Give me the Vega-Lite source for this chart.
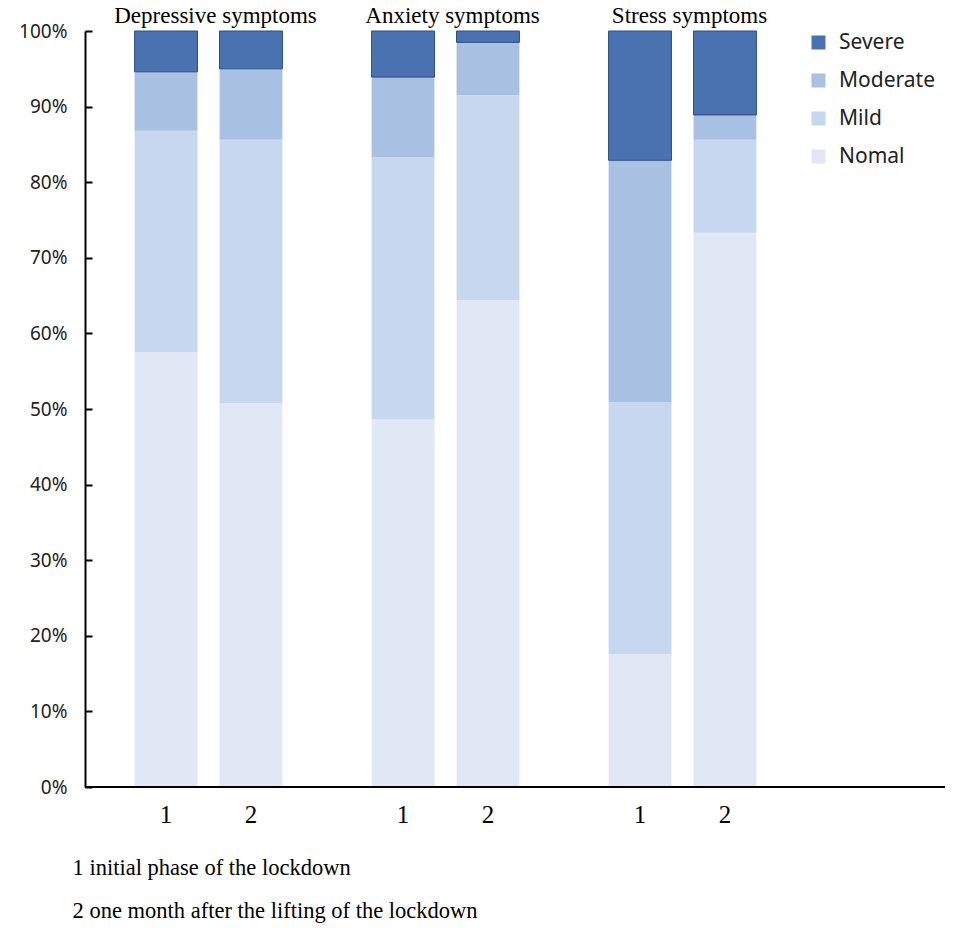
{
  "$schema": "https://vega.github.io/schema/vega-lite/v6.json",
  "width": 860,
  "height": 756,
  "autosize": "none",
  "padding": {"left": 85, "top": 31, "right": 12, "bottom": 143},
  "background": "white",
  "title": {
    "text": ["1 initial phase of the lockdown", "2 one month after the lifting of the lockdown"],
    "orient": "bottom",
    "anchor": "start",
    "font": "Liberation Serif",
    "fontSize": 22.5,
    "fontWeight": "normal",
    "color": "black",
    "lineHeight": 43,
    "offset": 29,
    "dx": 54
  },
  "data": {
    "values": [
      {"symptom": "Depressive symptoms", "time": "1", "level": "Nomal", "rank": 1, "pct": 57.5},
      {"symptom": "Depressive symptoms", "time": "1", "level": "Mild", "rank": 2, "pct": 29.3},
      {"symptom": "Depressive symptoms", "time": "1", "level": "Moderate", "rank": 3, "pct": 7.8},
      {"symptom": "Depressive symptoms", "time": "1", "level": "Severe", "rank": 4, "pct": 5.4},
      {"symptom": "Depressive symptoms", "time": "2", "level": "Nomal", "rank": 1, "pct": 50.8},
      {"symptom": "Depressive symptoms", "time": "2", "level": "Mild", "rank": 2, "pct": 34.8},
      {"symptom": "Depressive symptoms", "time": "2", "level": "Moderate", "rank": 3, "pct": 9.4},
      {"symptom": "Depressive symptoms", "time": "2", "level": "Severe", "rank": 4, "pct": 5.0},
      {"symptom": "Anxiety symptoms", "time": "1", "level": "Nomal", "rank": 1, "pct": 48.6},
      {"symptom": "Anxiety symptoms", "time": "1", "level": "Mild", "rank": 2, "pct": 34.7},
      {"symptom": "Anxiety symptoms", "time": "1", "level": "Moderate", "rank": 3, "pct": 10.6},
      {"symptom": "Anxiety symptoms", "time": "1", "level": "Severe", "rank": 4, "pct": 6.1},
      {"symptom": "Anxiety symptoms", "time": "2", "level": "Nomal", "rank": 1, "pct": 64.4},
      {"symptom": "Anxiety symptoms", "time": "2", "level": "Mild", "rank": 2, "pct": 27.1},
      {"symptom": "Anxiety symptoms", "time": "2", "level": "Moderate", "rank": 3, "pct": 7.0},
      {"symptom": "Anxiety symptoms", "time": "2", "level": "Severe", "rank": 4, "pct": 1.5},
      {"symptom": "Stress symptoms", "time": "1", "level": "Nomal", "rank": 1, "pct": 17.6},
      {"symptom": "Stress symptoms", "time": "1", "level": "Mild", "rank": 2, "pct": 33.3},
      {"symptom": "Stress symptoms", "time": "1", "level": "Moderate", "rank": 3, "pct": 32.0},
      {"symptom": "Stress symptoms", "time": "1", "level": "Severe", "rank": 4, "pct": 17.1},
      {"symptom": "Stress symptoms", "time": "2", "level": "Nomal", "rank": 1, "pct": 73.3},
      {"symptom": "Stress symptoms", "time": "2", "level": "Mild", "rank": 2, "pct": 12.3},
      {"symptom": "Stress symptoms", "time": "2", "level": "Moderate", "rank": 3, "pct": 3.3},
      {"symptom": "Stress symptoms", "time": "2", "level": "Severe", "rank": 4, "pct": 11.1}
    ]
  },
  "layer": [
    {
      "mark": {"type": "bar", "strokeWidth": 1},
      "encoding": {
        "x": {
          "field": "symptom",
          "type": "nominal",
          "sort": null,
          "scale": {
            "domain": ["Depressive symptoms", "Anxiety symptoms", "Stress symptoms"],
            "range": [5, 716],
            "paddingInner": 0,
            "paddingOuter": 0
          },
          "axis": {
            "orient": "top",
            "title": null,
            "domain": false,
            "ticks": false,
            "labelAngle": 0,
            "labelLimit": 0,
            "labelFont": "Liberation Serif",
            "labelFontSize": 23,
            "labelColor": "black",
            "labelPadding": 4,
            "labelOffset": 7
          }
        },
        "xOffset": {
          "field": "time",
          "type": "nominal",
          "scale": {"paddingInner": 0.26, "paddingOuter": 0.525}
        },
        "y": {
          "field": "pct",
          "type": "quantitative",
          "stack": "zero",
          "scale": {"domain": [0, 100], "nice": false},
          "axis": {
            "title": null,
            "values": [0, 10, 20, 30, 40, 50, 60, 70, 80, 90, 100],
            "labelExpr": "datum.value + '%'",
            "grid": false,
            "domainColor": "black",
            "domainWidth": 2,
            "tickColor": "black",
            "tickWidth": 2,
            "tickSize": -7,
            "labelPadding": 25,
            "labelFont": "Noto Sans",
            "labelFontSize": 19,
            "labelColor": "#222222"
          }
        },
        "color": {
          "field": "level",
          "type": "nominal",
          "scale": {
            "domain": ["Severe", "Moderate", "Mild", "Nomal"],
            "range": ["#4a72b0", "#a8c1e3", "#c6d7ef", "#e0e8f5"]
          },
          "legend": {
            "title": null,
            "orient": "none",
            "legendX": 723,
            "legendY": 1,
            "symbolType": "square",
            "symbolSize": 196,
            "symbolStrokeWidth": 0,
            "labelFont": "Noto Sans",
            "labelFontSize": 21,
            "labelColor": "#222222",
            "labelOffset": 10,
            "rowPadding": 16,
            "padding": 0
          }
        },
        "stroke": {
          "condition": {"test": "datum.level === 'Severe'", "value": "#2b4a82"},
          "value": null
        },
        "order": {"field": "rank", "type": "quantitative"}
      }
    },
    {
      "transform": [{"filter": "datum.level === 'Severe'"}],
      "mark": {
        "type": "text",
        "dy": 36,
        "baseline": "alphabetic",
        "font": "Liberation Serif",
        "fontSize": 25,
        "color": "black"
      },
      "encoding": {
        "x": {"field": "symptom", "type": "nominal", "sort": null},
        "xOffset": {"field": "time", "type": "nominal"},
        "y": {"datum": 0},
        "text": {"field": "time"}
      }
    },
    {
      "data": {"values": [{}]},
      "mark": {"type": "rule", "color": "black", "strokeWidth": 2},
      "encoding": {"y": {"datum": 0}}
    }
  ],
  "config": {"view": {"stroke": null}}
}
